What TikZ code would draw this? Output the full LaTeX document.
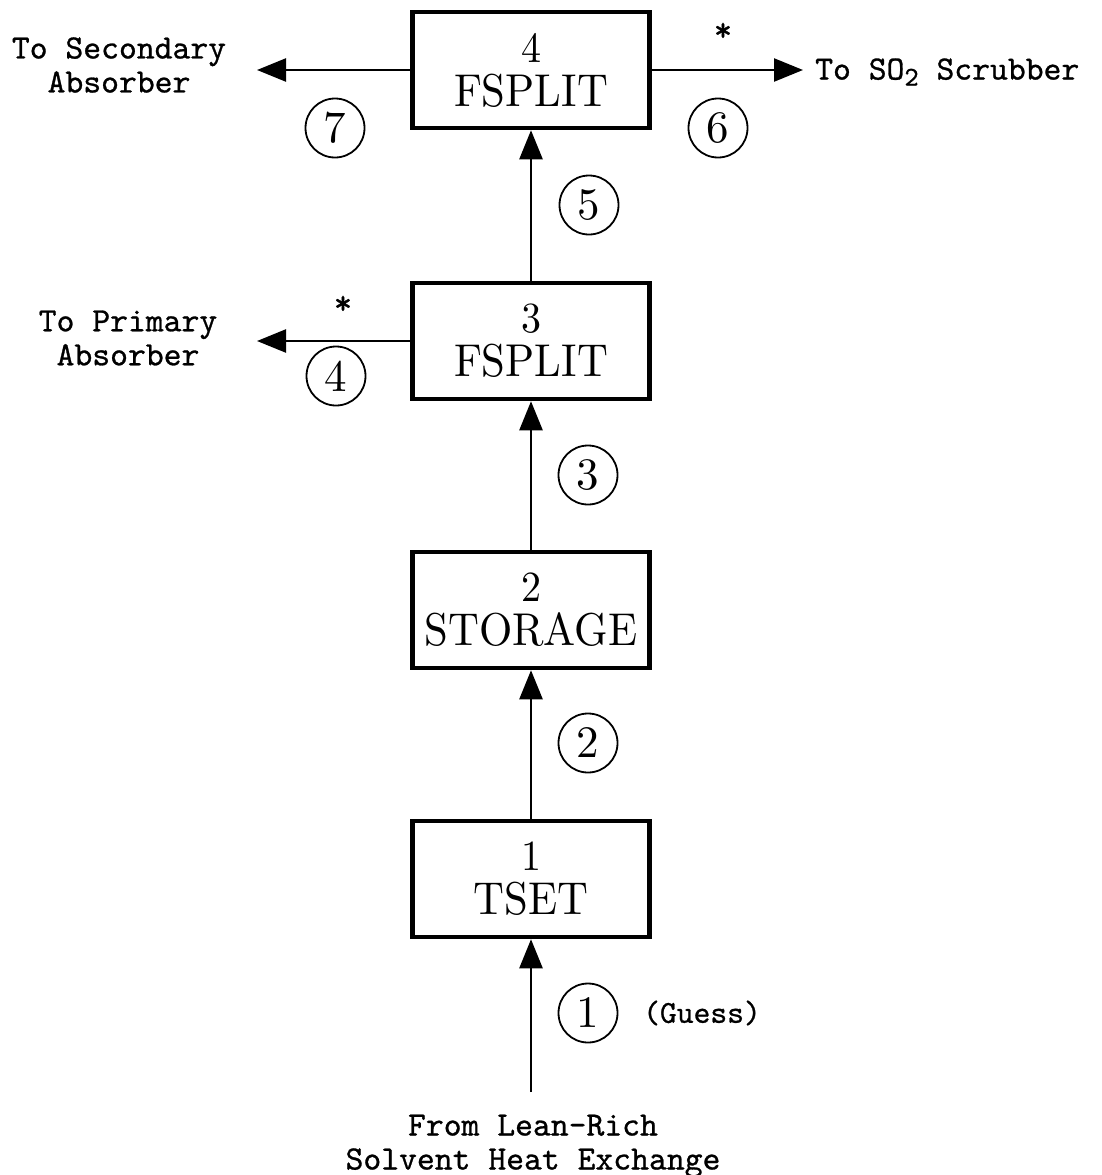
\documentclass[tikz,border=0pt]{standalone}
\usepackage{fontspec}
\usetikzlibrary{arrows.meta}
\newfontfamily\boxfont{lmroman10-regular.otf}[FakeStretch=0.93]
\newfontfamily\numfont{lmroman10-regular.otf}
\newfontfamily\labfont{lmmono10-regular.otf}[FakeBold=0.8]
\begin{document}
\begin{tikzpicture}[x=1pt,y=-1pt,
  unitbox/.style={draw, line width=4.5pt, minimum width=237pt, minimum height=116pt,
    inner sep=0pt, align=center, font=\boxfont\fontsize{46}{44}\selectfont},
  flow/.style={line width=2.4pt, -{Triangle[length=29pt,width=23pt]}},
  tag/.style={draw, circle, line width=1.8pt, minimum size=59pt, inner sep=0pt,
    font=\numfont\fontsize{45}{45}\selectfont},
  lab/.style={align=center, inner sep=0pt, font=\labfont\fontsize{34}{34}\selectfont},
  star/.style={inner sep=0pt, font=\labfont\fontsize{35}{35}\selectfont}]

\useasboundingbox (0,0) rectangle (1101,1175);

% unit boxes
\node[unitbox] (b4) at (531,70)  {{\fontsize{43}{43}\selectfont 4}\\FSPLIT};
\node[unitbox] (b3) at (531,341) {{\fontsize{43}{43}\selectfont 3}\\FSPLIT};
\node[unitbox] (b2) at (531,610) {{\fontsize{43}{43}\selectfont 2}\\STORAGE};
\node[unitbox] (b1) at (531,879) {{\fontsize{43}{43}\selectfont 1}\\TSET};

% free ends
\coordinate (in1)  at (531,1092);
\coordinate (out7) at (257,70);
\coordinate (out6) at (803,70);
\coordinate (out4) at (257,341);

% connectors
\draw[flow] (in1) -- (b1.south);
\draw[flow] (b1.north) -- (b2.south);
\draw[flow] (b2.north) -- (b3.south);
\draw[flow] (b3.north) -- (b4.south);
\draw[flow] (b4.west) -- (out7);
\draw[flow] (b4.east) -- (out6);
\draw[flow] (b3.west) -- (out4);

% stream numbers
\node[tag] (s1) at (588,1013) {1};
\node[tag] (s2) at (588,743)  {2};
\node[tag] (s3) at (588,475)  {3};
\node[tag] (s4) at (336,376)  {4};
\node[tag] (s5) at (589,205)  {5};
\node[tag] (s6) at (718,128)  {6};
\node[tag] (s7) at (335,128)  {7};

% labels
\node[lab] (lsec)   at (119,65)  {To Secondary\\Absorber};
\node[lab] (lprim)  at (128,338) {To Primary\\Absorber};
\node[lab, anchor=west] (lscr) at (815,72) {To SO\raisebox{-6pt}{\fontsize{27}{27}\selectfont 2} Scrubber};
\node[lab] (lfrom)  at (533,1146) {From Lean-Rich\\Solvent Heat Exchange};
\node[lab, font=\labfont\fontsize{32}{32}\selectfont] (lguess) at (702,1013) {(Guess)};
\node[star] (st6) at (723,32)  {*};
\node[star] (st4) at (343,305) {*};
\end{tikzpicture}
\end{document}
